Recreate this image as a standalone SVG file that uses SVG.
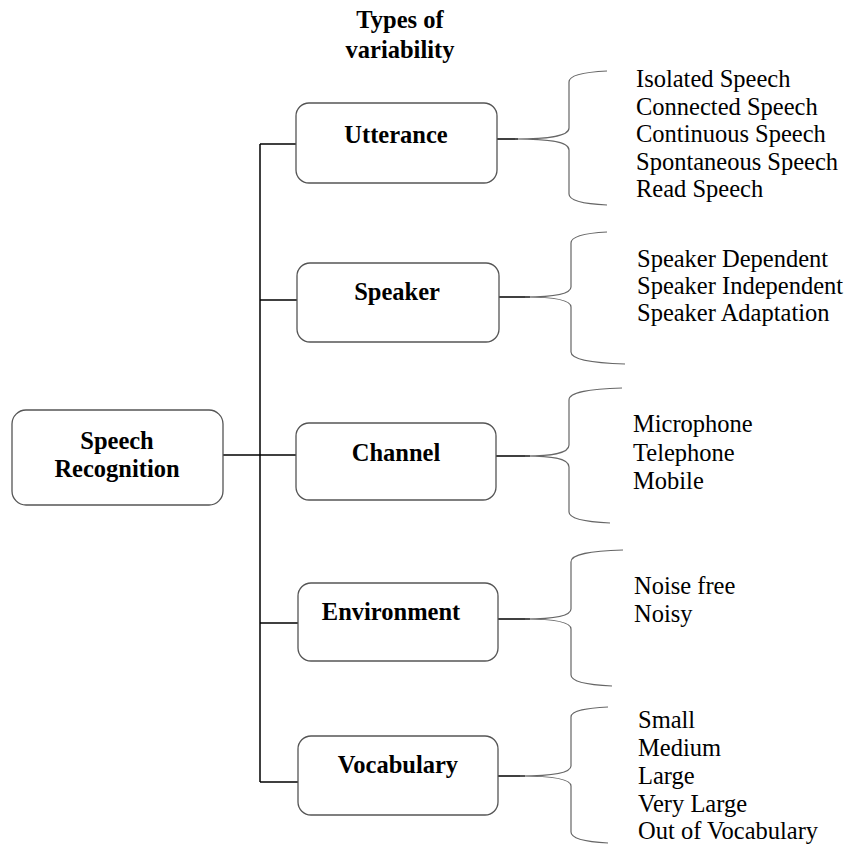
<svg xmlns="http://www.w3.org/2000/svg" width="851" height="850" viewBox="0 0 851 850">
<style>
.box{fill:#fff;stroke:#555;stroke-width:1.3}
.t{font-family:"Liberation Serif","Times New Roman",serif;font-size:24.5px;fill:#000}
.b{font-weight:bold;text-anchor:middle}
.con{stroke:#000;stroke-width:1.5;fill:none}
.br{stroke:#666;stroke-width:1.2;fill:none}
</style>
<rect width="851" height="850" fill="#fff"/>
<g id="header"><text class="t b" x="400" y="28">Types of</text><text class="t b" x="400" y="58">variability</text></g>
<g id="connectors">
<line class="con" x1="260" y1="144" x2="260" y2="782"/>
<line class="con" x1="223" y1="455" x2="296" y2="455"/>
<line class="con" x1="260" y1="144" x2="296" y2="144"/>
<line class="con" x1="260" y1="300" x2="297" y2="300"/>
<line class="con" x1="260" y1="623" x2="298" y2="623"/>
<line class="con" x1="260" y1="782" x2="298" y2="782"/>
<line class="con" x1="497" y1="139" x2="518" y2="139"/>
<line class="con" x1="499" y1="297" x2="530" y2="297"/>
<line class="con" x1="496" y1="456" x2="530" y2="456"/>
<line class="con" x1="498" y1="619" x2="530" y2="619"/>
<line class="con" x1="498" y1="776" x2="525" y2="776"/>
<path class="br" d="M515,139 C545,139 569,137 569,128 L569,82 C569,75 585,72 607,71 M515,139 C545,139 569,141 569,150 L569,194 C569,201 585,204 607,205"/>
<path class="br" d="M525,297 C550,297 571,295 571,287 L571,243 C571,236 587,233 607,232 M525,297 C550,297 571,299 571,307 L571,352 C571,359 590,363 625,364"/>
<path class="br" d="M525,456 C550,456 569,454 569,445 L569,400 C569,392 590,389 622,388 M525,456 C550,456 569,458 569,467 L569,512 C569,519 588,522 610,523"/>
<path class="br" d="M525,619 C550,619 571,617 571,609 L571,562 C571,554 590,551 623,550 M525,619 C550,619 571,621 571,629 L571,675 C571,682 590,685 612,686"/>
<path class="br" d="M520,776 C548,776 571,774 571,766 L571,717 C571,710 588,708 608,707 M520,776 C548,776 571,778 571,786 L571,832 C571,839 588,842 608,843"/>
</g>
<g id="speech-recognition"><rect class="box" x="12" y="410" width="211" height="95" rx="14"/><text class="t b" x="117" y="449">Speech</text><text class="t b" x="117" y="477">Recognition</text></g>
<g id="utterance"><rect class="box" x="296" y="103" width="201" height="80" rx="13"/><text class="t b" x="396" y="143">Utterance</text></g>
<g id="speaker"><rect class="box" x="297" y="263" width="202" height="79" rx="13"/><text class="t b" x="397" y="300">Speaker</text></g>
<g id="channel"><rect class="box" x="296" y="423" width="200" height="77" rx="13"/><text class="t b" x="396" y="461">Channel</text></g>
<g id="environment"><rect class="box" x="298" y="583" width="200" height="78" rx="13"/><text class="t b" x="391" y="620">Environment</text></g>
<g id="vocabulary"><rect class="box" x="298" y="736" width="200" height="79" rx="13"/><text class="t b" x="398" y="773">Vocabulary</text></g>
<g id="utterance-list" class="t"><text x="636" y="87">Isolated Speech</text><text x="636" y="114.5">Connected Speech</text><text x="636" y="142">Continuous Speech</text><text x="636" y="169.5">Spontaneous Speech</text><text x="636" y="197">Read Speech</text></g>
<g id="speaker-list" class="t"><text x="637" y="267">Speaker Dependent</text><text x="637" y="294">Speaker Independent</text><text x="637" y="321">Speaker Adaptation</text></g>
<g id="channel-list" class="t"><text x="633" y="432">Microphone</text><text x="633" y="460.5">Telephone</text><text x="633" y="489">Mobile</text></g>
<g id="environment-list" class="t"><text x="634" y="594">Noise free</text><text x="634" y="622">Noisy</text></g>
<g id="vocabulary-list" class="t"><text x="638" y="728">Small</text><text x="638" y="756">Medium</text><text x="638" y="784">Large</text><text x="638" y="812">Very Large</text><text x="638" y="839">Out of Vocabulary</text></g>
</svg>
